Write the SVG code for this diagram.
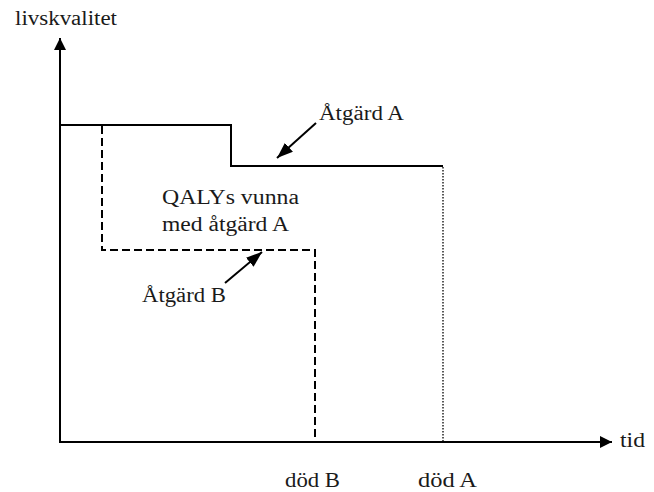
<svg xmlns="http://www.w3.org/2000/svg" width="654" height="492" viewBox="0 0 654 492">
<defs>
<marker id="ah" viewBox="0 0 12 12" refX="12" refY="6" markerWidth="12" markerHeight="12" markerUnits="userSpaceOnUse" orient="auto"><path d="M0,0 L12,6 L0,12 Z" fill="#000"/></marker>
<marker id="ahs" viewBox="0 0 16 12" refX="16" refY="6" markerWidth="16" markerHeight="12" markerUnits="userSpaceOnUse" orient="auto"><path d="M0,0 L16,6 L0,12 Z" fill="#000"/></marker>
</defs>
<style>
.lbl{font-family:'Liberation Serif',serif;font-size:20px;fill:#1a1a1a}
.solid{fill:none;stroke:#000;stroke-width:2}
.dash{fill:none;stroke:#000;stroke-width:2;stroke-dasharray:8 4}
.dot{fill:none;stroke:#000;stroke-width:1.3;stroke-dasharray:1.5 1.5}
</style>
<rect width="654" height="492" fill="#fff"/>
<g id="axes">
<line class="solid" x1="60" y1="443" x2="60" y2="38" marker-end="url(#ah)" />
<line class="solid" x1="59" y1="442" x2="612" y2="442" marker-end="url(#ah)" />
</g>
<g id="curveA">
<polyline class="solid" points="60,125 231,125 231,166 443,166"/>
<line class="dot" x1="443" y1="167" x2="443" y2="442"/>
</g>
<g id="curveB">
<polyline class="dash" points="102,126 102,250 315,250 315,442"/>
</g>
<g id="connectors">
<line class="solid" x1="316" y1="123" x2="277" y2="158" marker-end="url(#ahs)"/>
<line class="solid" x1="225" y1="283" x2="262" y2="252" marker-end="url(#ahs)"/>
</g>
<g id="labels" font-family="Liberation Serif, serif">
<text class="lbl" x="15" y="25" textLength="102" lengthAdjust="spacingAndGlyphs">livskvalitet</text>
<text class="lbl" x="319" y="120" textLength="85" lengthAdjust="spacingAndGlyphs">Åtgärd A</text>
<text class="lbl" x="162" y="204" textLength="137" lengthAdjust="spacingAndGlyphs">QALYs vunna</text>
<text class="lbl" x="162" y="231" textLength="127" lengthAdjust="spacingAndGlyphs">med åtgärd A</text>
<text class="lbl" x="142" y="302" textLength="84" lengthAdjust="spacingAndGlyphs">Åtgärd B</text>
<text class="lbl" x="285" y="487" textLength="55" lengthAdjust="spacingAndGlyphs">död B</text>
<text class="lbl" x="418" y="487" textLength="59" lengthAdjust="spacingAndGlyphs">död A</text>
<text class="lbl" x="620" y="447" textLength="25" lengthAdjust="spacingAndGlyphs">tid</text>
</g>
</svg>
